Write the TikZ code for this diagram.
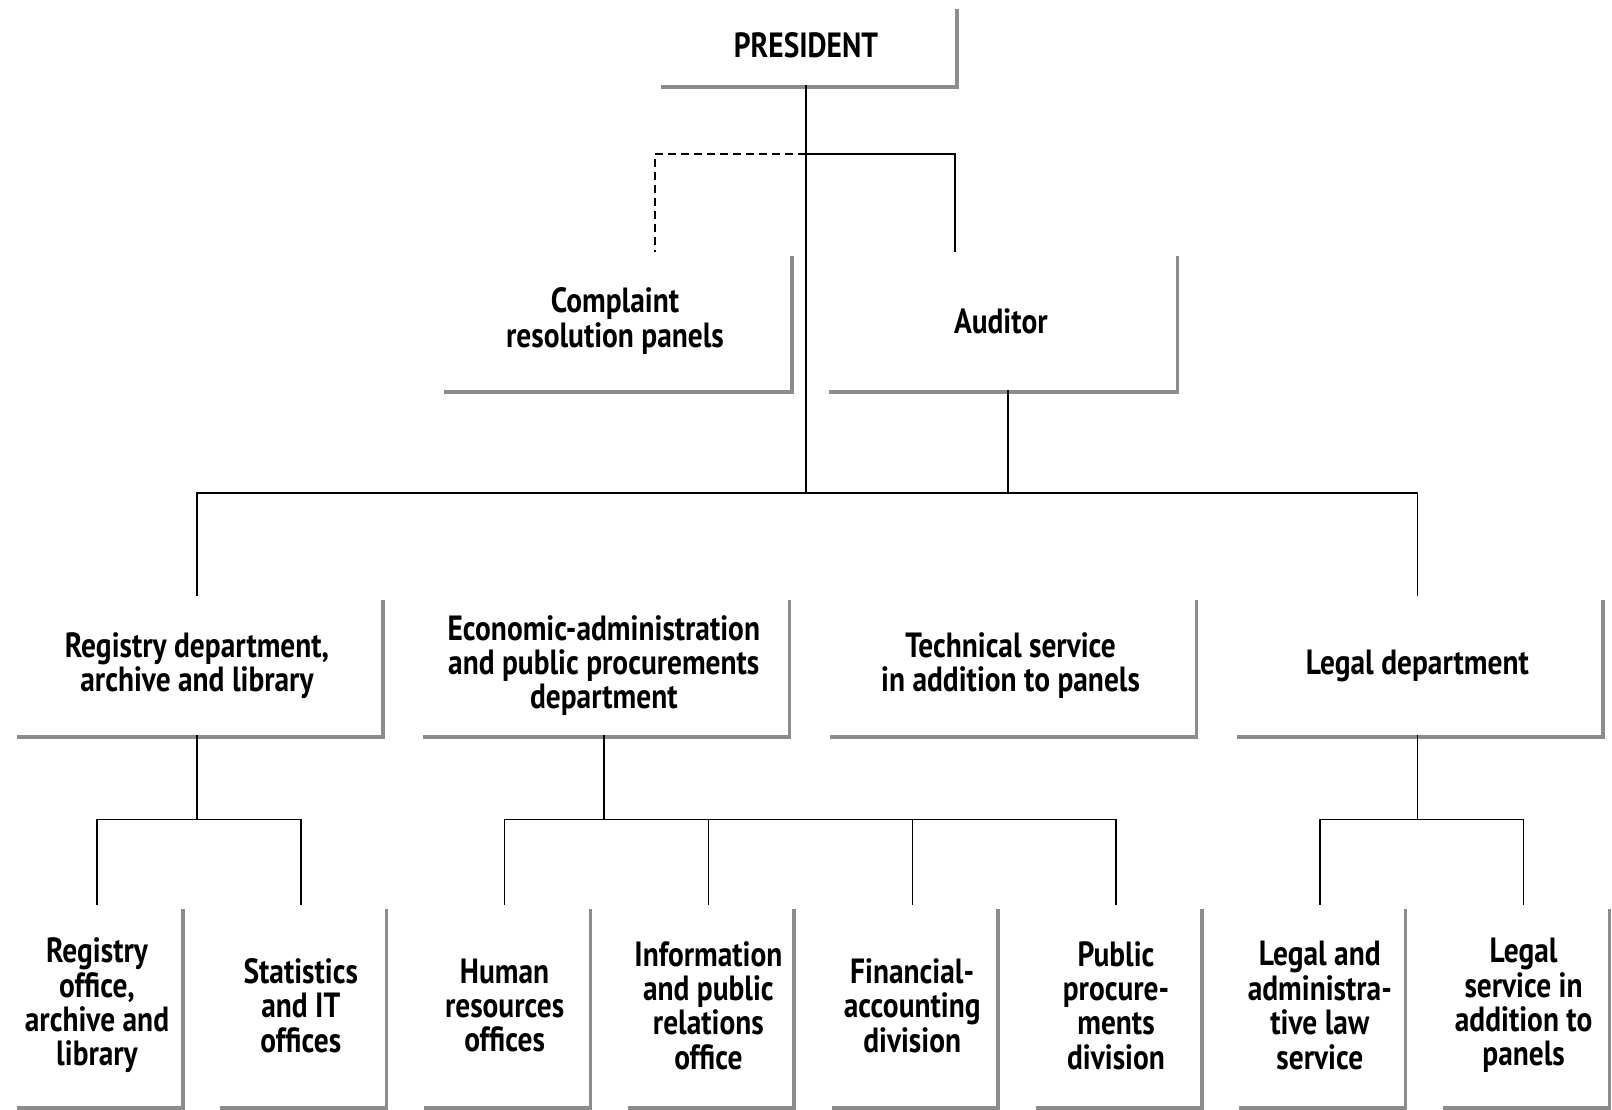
\documentclass[tikz,border=0pt]{standalone}
\usepackage{fontspec}
\newfontfamily\boxfont[FakeStretch=0.84]{PT Sans}
\usetikzlibrary{positioning,shadows,calc}

\tikzset{
	unit/.style={fill=white, inner sep=0pt, align=center,
		font=\boxfont\bfseries\fontsize{17.5}{17.2}\selectfont,
		drop shadow={shadow xshift=1.8pt, shadow yshift=-1.8pt, fill=black!45, opacity=1}},
	headbox/.style={unit, minimum width=149pt, minimum height=40pt},
	panelbox/.style={unit, minimum width=175pt, minimum height=69pt},
	deptbox/.style={unit, minimum width=184pt, minimum height=69.5pt},
	officebox/.style={unit, minimum width=84pt, minimum height=100.5pt},
	link/.style={line width=0.7pt},
}

\begin{document}
\begin{tikzpicture}[x=0.5pt, y=-0.5pt]
		\useasboundingbox (0,0) rectangle (1612,1109);
		\node[headbox] (pres) at (806,45) {PRESIDENT};
		\node[panelbox] (cmp) at (615,321) {Complaint\\resolution panels};
		\node[panelbox, right=17.5pt of cmp] (aud) {Auditor};
		\node[deptbox] (reg) at (197,665.5) {Registry department,\\archive and library};
		\node[deptbox, right=19pt of reg] (eco) {Economic-administration\\and public procurements\\department};
		\node[deptbox, right=19pt of eco] (tech) {Technical service\\in addition to panels};
		\node[deptbox, right=19pt of tech] (legal) {Legal department};
		\node[officebox] (regoff) at (97,1005.5) {Registry\\office,\\archive and\\library};
		\node[officebox, right=17.5pt of regoff] (stat) {Statistics\\and IT\\offices};
		\node[officebox, right=17.5pt of stat] (hr) {Human\\resources\\offices};
		\node[officebox, right=17.5pt of hr] (info) {Information\\and public\\relations\\office};
		\node[officebox, right=17.5pt of info] (fin) {Financial-\\accounting\\division};
		\node[officebox, right=17.5pt of fin] (proc) {Public\\procure-\\ments\\division};
		\node[officebox, right=17.5pt of proc] (adml) {Legal and\\administra-\\tive law\\service};
		\node[officebox, right=17.5pt of adml] (legs) {Legal\\service in\\addition to\\panels};

		\coordinate (pb) at (806,154);
		\coordinate (mb) at (806,493);
		\draw[link, dash pattern=on 4pt off 2.5pt] (pb) -| ($(cmp.north)+(40,0)$);
		\draw[link] (pb) -| ($(aud.north)+(-46,0)$);
		\draw[link] (pres.south) -- (mb);
		\draw[link] ($(aud.south)+(7,0)$) -- ($(aud.south |- mb)+(7,0)$);
		\draw[link] (reg.north) |- (mb) -| (legal.north);

		\draw[link] (reg.south) -- ++(0,84) coordinate (rb);
		\draw[link] (regoff.north) |- (rb) -| (stat.north);
		\draw[link] (eco.south) -- ++(0,84) coordinate (eb);
		\draw[link] (hr.north) |- (eb) -| (proc.north);
		\foreach \n in {info,fin}
			\draw[link] (\n.north) -- (\n.north |- eb);
		\draw[link] (legal.south) -- ++(0,84) coordinate (lb);
		\draw[link] (adml.north) |- (lb) -| (legs.north);
	\end{tikzpicture}
\end{document}
